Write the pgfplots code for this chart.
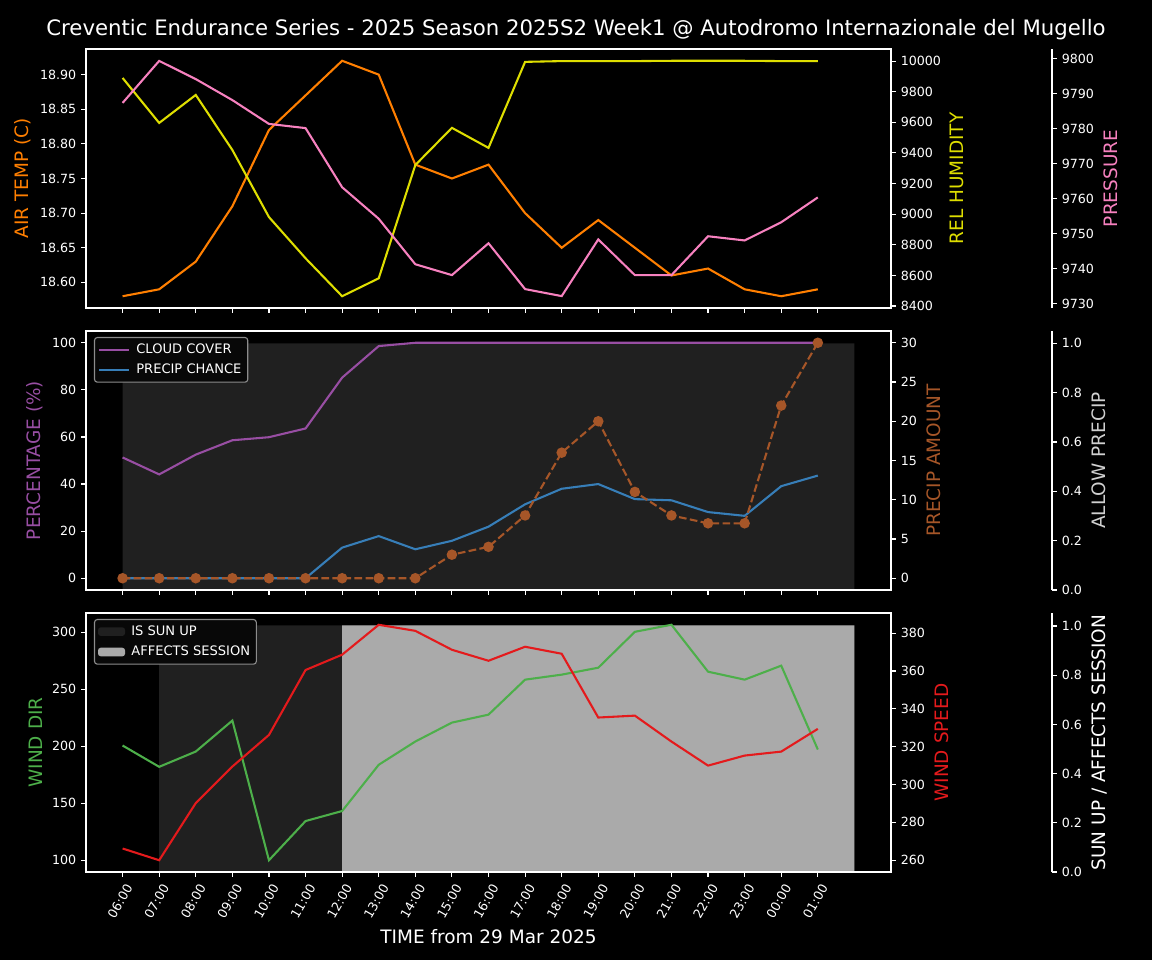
\documentclass[border=0pt]{standalone}
\usepackage{fontspec}
\setmainfont{DejaVu Sans}
\usepackage{pgfplots}
\pgfplotsset{compat=1.18}

\definecolor{cTemp}{HTML}{FF7F00}
\definecolor{cHum}{HTML}{DEDE00}
\definecolor{cPres}{HTML}{F781BF}
\definecolor{cCloud}{HTML}{984EA3}
\definecolor{cChance}{HTML}{377EB8}
\definecolor{cAmt}{HTML}{A65628}
\definecolor{cDir}{HTML}{4DAF4A}
\definecolor{cSpd}{HTML}{E41A1C}
\definecolor{cDark}{HTML}{202020}
\definecolor{cLight}{HTML}{AAAAAA}
\definecolor{cAllow}{HTML}{D0D0D0}
\definecolor{cLegBg}{HTML}{080808}
\definecolor{cLegEdge}{HTML}{8C8C8C}

\newcommand\tickfont{\fontsize{9.1}{11}\selectfont}
\newcommand\labfont{\fontsize{13.3}{16}\selectfont}

% 1px of the reference = 0.72pt
\pgfplotsset{
  panel/.style={scale only axis, width=579.6pt, height=186.48pt,
    xmin=-1, xmax=21, xtick={0,...,19},
    tick align=outside, major tick length=3.5pt,
    every tick/.append style={white, line width=0.8pt},
    axis line style={white, line width=0.8pt},
    tick label style={font=\tickfont, text=white},
    label style={font=\labfont},
    /pgf/number format/assume math mode=true,
    scaled y ticks=false},
  main/.style={panel, tick pos=left, xticklabels={}},
  twin/.style={panel, axis y line*=right, axis x line=none},
  overlay/.style={panel, hide axis},
  spine/.style={scale only axis, width=1pt, height=186.48pt, xmin=0, xmax=1,
    axis y line*=right, axis x line=none,
    tick align=outside, major tick length=3.5pt,
    every tick/.append style={white, line width=0.8pt},
    axis line style={white, line width=0.8pt},
    tick label style={font=\tickfont, text=white},
    label style={font=\labfont},
    /pgf/number format/assume math mode=true},
  ln/.style={line width=1.5pt, mark=none},
  leg/.style={legend style={at={(0.0099,0.977)}, anchor=north west,
      fill=cLegBg, draw=cLegEdge, rounded corners=2pt, text=white,
      font=\fontsize{9.4}{11}\selectfont, line width=0.8pt,
      inner sep=2.5pt, row sep=2.2pt, column sep=2.5pt},
    legend cell align=left},
}

\begin{document}
\begin{tikzpicture}
\fill[black] (0pt,0pt) rectangle (829.44pt,-691.2pt);

\node[text=white, anchor=base, font=\fontsize{15.3}{18}\selectfont] at (414.72pt,-25.2pt)
  {Creventic Endurance Series - 2025 Season 2025S2 Week1 @ Autodromo Internazionale del Mugello};

%%%%% panel 1
\begin{axis}[main, at={(61.92pt,-221.76pt)}, anchor=south west,
  ymin=18.563, ymax=18.937,
  ytick={18.60,18.65,18.70,18.75,18.80,18.85,18.90},
  yticklabels={18.60,18.65,18.70,18.75,18.80,18.85,18.90},
  ylabel={AIR TEMP (C)}, ylabel style={text=cTemp}]
\addplot[ln, cTemp] coordinates {
 (0,18.58) (1,18.59) (2,18.63) (3,18.71) (4,18.82) (5,18.87) (6,18.92) (7,18.90)
 (8,18.77) (9,18.75) (10,18.77) (11,18.70) (12,18.65) (13,18.69) (14,18.65)
 (15,18.61) (16,18.62) (17,18.59) (18,18.58) (19,18.59)};
\end{axis}
\begin{axis}[twin, at={(61.92pt,-221.76pt)}, anchor=south west,
  ymin=8387, ymax=10079,
  ytick={8400,8600,...,10000},
  yticklabels={8400,8600,8800,9000,9200,9400,9600,9800,10000},
  ylabel={REL HUMIDITY}, ylabel style={text=cHum}]
\addplot[ln, cHum] coordinates {
 (0,9890) (1,9596) (2,9779) (3,9419) (4,8981) (5,8712) (6,8464) (7,8581)
 (8,9321) (9,9564) (10,9433) (11,9995) (12,10000) (13,10000) (14,10000)
 (15,10002) (16,10002) (17,10002) (18,10000) (19,10000)};
\end{axis}
\begin{axis}[overlay, at={(61.92pt,-221.76pt)}, anchor=south west,
  ymin=9728.7, ymax=9802.7]
\addplot[ln, cPres] coordinates {
 (0,9787.3) (1,9799.3) (2,9794.1) (3,9788.1) (4,9781.3) (5,9780.1) (6,9763.2)
 (7,9754.2) (8,9741.2) (9,9738.1) (10,9747.2) (11,9734.1) (12,9732.1)
 (13,9748.3) (14,9738.1) (15,9738.1) (16,9749.2) (17,9748.0) (18,9753.2)
 (19,9760.3)};
\end{axis}
\begin{axis}[spine, at={(757.44pt,-221.76pt)}, anchor=south east,
  ymin=9728.7, ymax=9802.7,
  ytick={9730,9740,...,9800},
  yticklabels={9730,9740,9750,9760,9770,9780,9790,9800},
  ylabel={PRESSURE}, ylabel style={text=cPres}]
\end{axis}

%%%%% panel 2
\begin{axis}[overlay, at={(61.92pt,-424.8pt)}, anchor=south west,
  ymin=0, ymax=1.05]
\addplot[const plot, fill=cDark, draw=none] coordinates {
 (0,1) (1,1) (2,1) (3,1) (4,1) (5,1) (6,1) (7,1) (8,1) (9,1) (10,1) (11,1)
 (12,1) (13,1) (14,1) (15,1) (16,1) (17,1) (18,1) (19,1) (20,1)} \closedcycle;
\end{axis}
\begin{axis}[main, leg, at={(61.92pt,-424.8pt)}, anchor=south west,
  ymin=-5, ymax=105,
  ytick={0,20,...,100},
  ylabel={PERCENTAGE (\%)}, ylabel style={text=cCloud},
  legend image code/.code={\draw[#1] (0pt,0pt) -- (21.6pt,0pt);}]
\addplot[ln, cCloud] coordinates {
 (0,51.3) (1,44.1) (2,52.5) (3,58.6) (4,59.9) (5,63.6) (6,85.2) (7,98.6)
 (8,100) (9,100) (10,100) (11,100) (12,100) (13,100) (14,100) (15,100)
 (16,100) (17,100) (18,100) (19,100)};
\addlegendentry{CLOUD COVER}
\addplot[ln, cChance] coordinates {
 (0,0) (1,0) (2,0) (3,0) (4,0) (5,0) (6,13.0) (7,17.9) (8,12.3) (9,15.9)
 (10,21.9) (11,31.4) (12,38.0) (13,40.0) (14,33.6) (15,33.1) (16,28.1)
 (17,26.5) (18,39.1) (19,43.6)};
\addlegendentry{PRECIP CHANCE}
\end{axis}
\begin{axis}[twin, at={(61.92pt,-424.8pt)}, anchor=south west,
  ymin=-1.5, ymax=31.5,
  ytick={0,5,...,30},
  ylabel={PRECIP AMOUNT}, ylabel style={text=cAmt}]
\addplot[line width=1.5pt, cAmt, dash pattern=on 5.55pt off 2.4pt,
  mark=*, mark size=3pt, mark options={solid}] coordinates {
 (0,0) (1,0) (2,0) (3,0) (4,0) (5,0) (6,0) (7,0) (8,0) (9,3) (10,4) (11,8)
 (12,16) (13,20) (14,11) (15,8) (16,7) (17,7) (18,22) (19,30)};
\end{axis}
\begin{axis}[spine, at={(757.44pt,-424.8pt)}, anchor=south east,
  ymin=0, ymax=1.05,
  ytick={0,0.2,...,1.0},
  yticklabels={0.0,0.2,0.4,0.6,0.8,1.0},
  ylabel={ALLOW PRECIP}, ylabel style={text=cAllow}]
\end{axis}

%%%%% panel 3
\begin{axis}[overlay, leg, at={(61.92pt,-627.84pt)}, anchor=south west,
  ymin=0, ymax=1.05]
\addplot[const plot, fill=cDark, draw=none,
  legend image code/.code={\fill[cDark] (0pt,-3.1pt) rectangle (19.5pt,3.1pt);}] coordinates {
 (0,0) (1,1) (2,1) (3,1) (4,1) (5,1) (6,1) (7,1) (8,1) (9,1) (10,1) (11,1)
 (12,1) (13,1) (14,1) (15,1) (16,1) (17,1) (18,1) (19,1) (20,1)} \closedcycle;
\addlegendentry{IS SUN UP}
\addplot[const plot, fill=cLight, draw=none,
  legend image code/.code={\fill[cLight] (0pt,-3.1pt) rectangle (19.5pt,3.1pt);}] coordinates {
 (0,0) (1,0) (2,0) (3,0) (4,0) (5,0) (6,1) (7,1) (8,1) (9,1) (10,1) (11,1)
 (12,1) (13,1) (14,1) (15,1) (16,1) (17,1) (18,1) (19,1) (20,1)} \closedcycle;
\addlegendentry{AFFECTS SESSION}
\end{axis}
\begin{axis}[panel, tick pos=left, at={(61.92pt,-627.84pt)}, anchor=south west,
  ymin=89.67, ymax=317.0,
  ytick={100,150,...,300},
  xticklabels={06:00,07:00,08:00,09:00,10:00,11:00,12:00,13:00,14:00,15:00,
    16:00,17:00,18:00,19:00,20:00,21:00,22:00,23:00,00:00,01:00},
  xticklabel style={xshift=6.5pt, yshift=-3pt, rotate=60, anchor=east},
  ylabel={WIND DIR}, ylabel style={text=cDir}]
\addplot[ln, cDir] coordinates {
 (0,200.7) (1,182) (2,195.4) (3,222.6) (4,100) (5,134.4) (6,143.2) (7,183.8)
 (8,204.2) (9,220.8) (10,227.8) (11,258.5) (12,262.9) (13,269) (14,300.5)
 (15,306.7) (16,265.5) (17,258.5) (18,270.8) (19,197.2)};
\end{axis}
\begin{axis}[twin, at={(61.92pt,-627.84pt)}, anchor=south west,
  ymin=253.78, ymax=390.62,
  ytick={260,280,...,380},
  ylabel={WIND SPEED}, ylabel style={text=cSpd}]
\addplot[ln, cSpd] coordinates {
 (0,266.2) (1,260) (2,290.2) (3,309.5) (4,326.2) (5,360.5) (6,368.6) (7,384.4)
 (8,381.2) (9,371.2) (10,365.4) (11,372.8) (12,369.1) (13,335.4) (14,336.4)
 (15,322.7) (16,310) (17,315.3) (18,317.4) (19,329.4)};
\end{axis}
\begin{axis}[spine, at={(757.44pt,-627.84pt)}, anchor=south east,
  ymin=0, ymax=1.053,
  ytick={0,0.2,...,1.0},
  yticklabels={0.0,0.2,0.4,0.6,0.8,1.0},
  ylabel={SUN UP / AFFECTS SESSION}, ylabel style={text=white}]
\end{axis}

\node[text=white, anchor=base, font=\labfont] at (351.72pt,-678.96pt)
  {TIME from 29 Mar 2025};
\end{tikzpicture}
\end{document}
